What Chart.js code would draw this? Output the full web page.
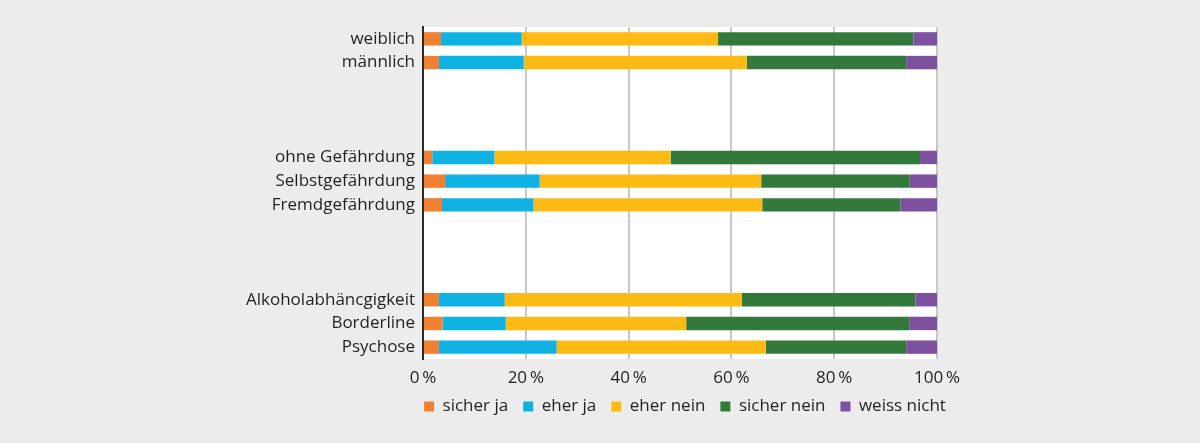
<!DOCTYPE html>
<html>
<head>
<meta charset="utf-8">
<script src="https://cdn.jsdelivr.net/npm/chart.js@4"></script>
<style>
    html, body { margin: 0; padding: 0; background: #ececec; }
    body { width: 1200px; height: 443px; position: relative; overflow: hidden; }
    #wrap { position: absolute; left: 200px; top: 0; width: 970px; height: 443px; }
</style>
</head>
<body>
<div id="wrap"><canvas id="grafico"></canvas></div>
<script>
// Kategorien (leere Einträge = Abstand zwischen den Gruppen)
const kategorien = [
    'weiblich', 'männlich', '', '', '',
    'ohne Gefährdung', 'Selbstgefährdung', 'Fremdgefährdung', '', '', '',
    'Alkoholabhäncgigkeit', 'Borderline', 'Psychose'
];

// Anteile in Prozent
const sicherJa    = [3.5, 3.1, null, null, null, 1.8, 4.3, 3.7, null, null, null, 3.1, 3.8, 3.1];
const eherJa      = [15.7, 16.5, null, null, null, 12.1, 18.4, 17.8, null, null, null, 12.8, 12.3, 22.9];
const eherNein    = [38.2, 43.4, null, null, null, 34.3, 43.1, 44.5, null, null, null, 46.1, 35.1, 40.7];
const sicherNein  = [38.0, 31.0, null, null, null, 48.5, 28.9, 26.9, null, null, null, 33.8, 43.4, 27.3];
const weissNicht  = [4.6, 6.0, null, null, null, 3.3, 5.3, 7.1, null, null, null, 4.2, 5.4, 6.0];

const xTicks = [0, 20, 40, 60, 80, 100];

const serien = [
    { label: 'sicher ja', data: sicherJa, color: '#f28032' },
    { label: 'eher ja', data: eherJa, color: '#0fb2e2' },
    { label: 'eher nein', data: eherNein, color: '#fdba14' },
    { label: 'sicher nein', data: sicherNein, color: '#34793c' },
    { label: 'weiss nicht', data: weissNicht, color: '#7e50a0' }
];

// weißer Hintergrund nur im Diagrammbereich
const weisseFlaeche = {
    id: 'weisseFlaeche',
    afterLayout(chart) {
        // x-Achse ist kompakt gesetzt, Beschriftung darf trotzdem nach unten ragen
        const x = chart.scales.x;
        x.bottom = x.top + 40;
    },
    beforeDraw(chart) {
        const { ctx, chartArea } = chart;
        ctx.save();
        ctx.fillStyle = '#ffffff';
        ctx.fillRect(chartArea.left, chartArea.top, chartArea.right - chartArea.left + 1, chartArea.bottom - chartArea.top);
        ctx.restore();
    }
};

const schrift = { family: "'Open Sans', sans-serif", size: 17 };

new Chart(document.getElementById('grafico'), {
    type: 'bar',
    data: {
        labels: kategorien,
        datasets: serien.map(s => ({
            label: s.label,
            data: s.data,
            backgroundColor: s.color,
            borderWidth: 0,
            barPercentage: 0.565,
            categoryPercentage: 1
        }))
    },
    options: {
        indexAxis: 'y',
        responsive: true,
        maintainAspectRatio: false,
        animation: false,
        layout: { padding: { top: 27, right: 0, bottom: 18, left: 0 } },
        scales: {
            x: {
                stacked: true,
                min: 0,
                max: 100,
                afterBuildTicks: (scale) => { scale.ticks = xTicks.map(v => ({ value: v })); },
                afterFit: (scale) => { scale.height = 24; },
                ticks: {
                    font: schrift,
                    color: '#231f20',
                    padding: 9,
                    callback: (v) => v + '\u2009%'
                },
                grid: {
                    drawTicks: false,
                    color: (c) => c.index === 0 ? 'rgba(0,0,0,0)' : '#c8c8c8',
                    lineWidth: 2
                },
                border: { display: false }
            },
            y: {
                stacked: true,
                afterFit: (scale) => { scale.width = 223; },
                ticks: {
                    font: schrift,
                    color: '#231f20',
                    padding: 8,
                    autoSkip: false
                },
                grid: { display: false, drawTicks: false },
                border: { display: true, color: '#2b2b2b', width: 2 }
            },
            // leere Achse rechts, damit die Legende mittig unter dem Bild sitzt
            rechts: {
                type: 'category',
                position: 'right',
                afterFit: (scale) => { scale.width = 233; },
                ticks: { display: false },
                grid: { display: false, drawTicks: false },
                border: { display: false }
            }
        },
        plugins: {
            legend: {
                position: 'bottom',
                labels: {
                    font: schrift,
                    color: '#231f20',
                    boxWidth: 10,
                    boxHeight: 10,
                    padding: 15
                }
            },
            tooltip: { enabled: false }
        }
    },
    plugins: [weisseFlaeche]
});
</script>
</body>
</html>
